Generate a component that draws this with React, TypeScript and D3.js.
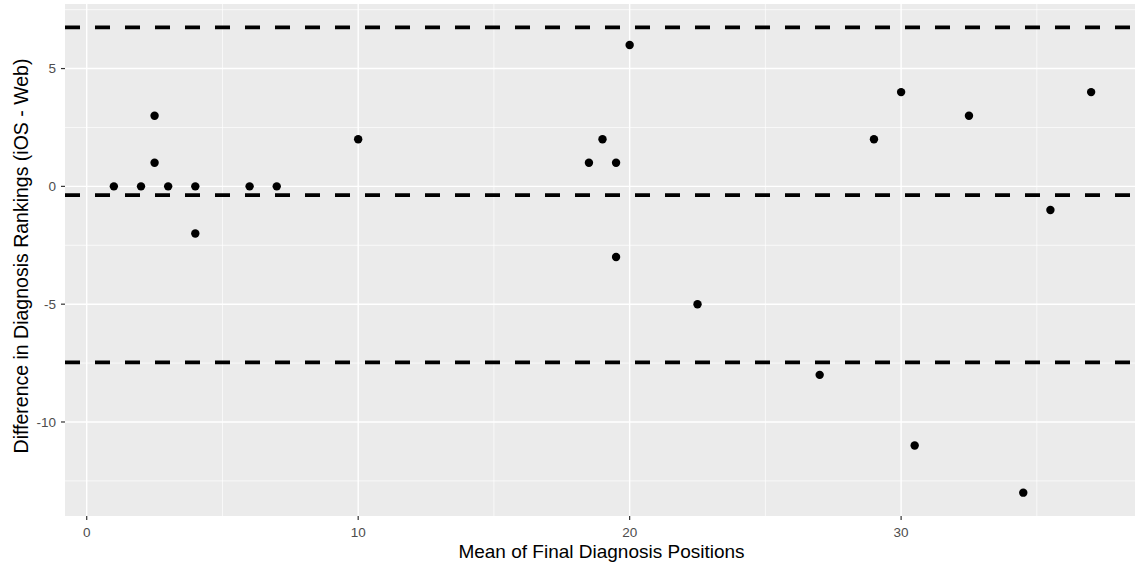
import React from "react";
import * as d3 from "d3";

const meanPositions = [1, 2, 2.5, 2.5, 3, 4, 4, 6, 7, 10, 18.5, 19, 19.5, 19.5, 20, 22.5, 27, 29, 30, 30.5, 32.5, 34.5, 35.5, 37];
const rankDiffs = [0, 0, 3, 1, 0, 0, -2, 0, 0, 2, 1, 2, 1, -3, 6, -5, -8, 2, 4, -11, 3, -13, -1, 4];
const refLines = [6.75, -0.37, -7.47];
const xTicks = [0, 10, 20, 30];
const xMinor = [5, 15, 25, 35];
const yTicks = [-10, -5, 0, 5];
const yMinor = [-12.5, -7.5, -2.5, 2.5, 7.5];

const W = 1135;
const H = 569;
const panel = { left: 65, top: 4, right: 1140, bottom: 516 };

export default function App() {
  const x = d3.scaleLinear().domain([-0.8, 38.8]).range([panel.left, panel.right]);
  const y = d3.scaleLinear().domain([-13.99, 7.74]).range([panel.bottom, panel.top]);
  const font = "'Liberation Sans', Arial, Helvetica, sans-serif";
  const pw = panel.right - panel.left;
  const ph = panel.bottom - panel.top;
  return (
    <svg width={W} height={H} style={{ position: "absolute", left: 0, top: 0, display: "block" }} fontFamily={font}>
      <defs>
        <clipPath id="pclip">
          <rect x={panel.left} y={panel.top} width={pw} height={ph} />
        </clipPath>
      </defs>
      <rect x={0} y={0} width={W} height={H} fill="#fff" />
      <rect x={panel.left} y={panel.top} width={pw} height={ph} fill="#EBEBEB" />
      <g clipPath="url(#pclip)">
        {yMinor.map((v) => (
          <line key={"ym" + v} x1={panel.left} x2={panel.right} y1={y(v)} y2={y(v)} stroke="#fff" strokeWidth={0.7} />
        ))}
        {xMinor.map((v) => (
          <line key={"xm" + v} x1={x(v)} x2={x(v)} y1={panel.top} y2={panel.bottom} stroke="#fff" strokeWidth={0.7} />
        ))}
        {yTicks.map((v) => (
          <line key={"yg" + v} x1={panel.left} x2={panel.right} y1={y(v)} y2={y(v)} stroke="#fff" strokeWidth={1.4} />
        ))}
        {xTicks.map((v) => (
          <line key={"xg" + v} x1={x(v)} x2={x(v)} y1={panel.top} y2={panel.bottom} stroke="#fff" strokeWidth={1.4} />
        ))}
        {meanPositions.map((mx, i) => (
          <circle key={"p" + i} cx={x(mx)} cy={y(rankDiffs[i])} r={4.2} fill="#000" />
        ))}
        {refLines.map((v) => (
          <line key={"r" + v} x1={panel.left} x2={panel.right} y1={y(v)} y2={y(v)} stroke="#000" strokeWidth={3.6} strokeDasharray="15 15" />
        ))}
      </g>
      {yTicks.map((v) => (
        <g key={"yt" + v}>
          <line x1={panel.left - 4} x2={panel.left} y1={y(v)} y2={y(v)} stroke="#333" strokeWidth={1.2} />
          <text x={56} y={y(v)} dy="0.36em" textAnchor="end" fontSize={13.5} fill="#4D4D4D">
            {v}
          </text>
        </g>
      ))}
      {xTicks.map((v) => (
        <g key={"xt" + v}>
          <line x1={x(v)} x2={x(v)} y1={panel.bottom} y2={panel.bottom + 4} stroke="#333" strokeWidth={1.2} />
          <text x={x(v)} y={537} textAnchor="middle" fontSize={13.5} fill="#4D4D4D">
            {v}
          </text>
        </g>
      ))}
      <text x={(panel.left + 1134) / 2 + 2} y={558} textAnchor="middle" fontSize={19} fill="#000">
        Mean of Final Diagnosis Positions
      </text>
      <text
        transform={`translate(28, ${(panel.top + panel.bottom) / 2 - 4}) rotate(-90)`}
        textAnchor="middle"
        fontSize={19.5}
        fill="#000"
      >
        Difference in Diagnosis Rankings (iOS - Web)
      </text>
    </svg>
  );
}
